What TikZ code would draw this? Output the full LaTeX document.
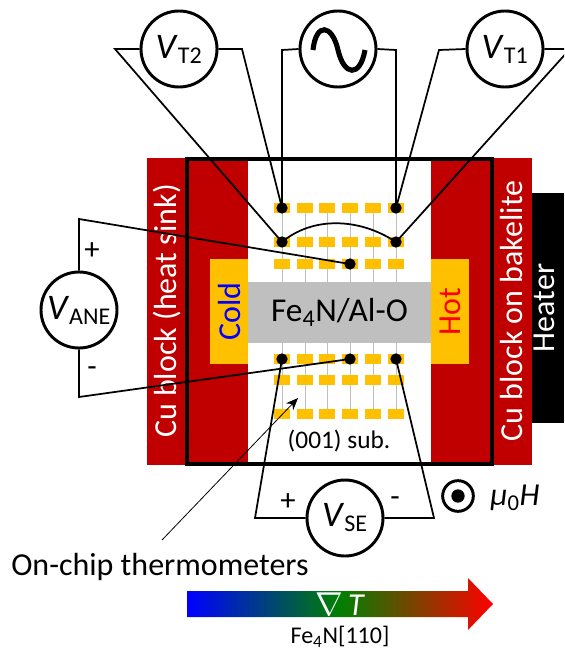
\documentclass[tikz,border=0pt]{standalone}
\usepackage{fontspec}
\setmainfont{Carlito}
\usepackage{xcolor}
\usetikzlibrary{arrows.meta, positioning, calc}
\definecolor{cublock}{RGB}{192,0,0}
\definecolor{padgold}{RGB}{255,192,0}
\definecolor{filmgray}{RGB}{191,191,191}
\definecolor{midgreen}{RGB}{0,128,0}
\newcommand{\fsize}[1]{\fontsize{#1}{#1}\selectfont}
\newcommand{\volt}[1]{\textit{V}\textsubscript{\fsize{18}#1}}

\begin{document}
\begin{tikzpicture}[
    x=0.75pt, y=-0.75pt,
    >={Stealth[length=3.2mm,width=2.6mm]},
    every node/.style={inner sep=0pt},
    cublk/.style={fill=cublock, draw=none},
    sidepad/.style={fill=padgold, draw=none, minimum width=28.5pt, minimum height=79pt},
    pad/.style={fill=padgold, draw=none, minimum width=11.5pt, minimum height=7.5pt},
    strip/.style={draw=filmgray, line width=0.6pt},
    wire/.style={draw=black, line width=1.3pt, line join=miter},
    contact/.style={circle, fill=black, minimum size=8.5pt},
    meter/.style={circle, draw=black, line width=2.2pt, fill=white,
                  minimum size=57pt, font=\fsize{27}, align=center},
    bigtext/.style={font=\fsize{24}, text=black},
    sidetext/.style={font=\fsize{24}, text=white, rotate=90},
    signtext/.style={font=\fsize{23}}
  ]
  \clip (0,0) rectangle (564,653);
  \useasboundingbox (0,0) rectangle (564,653);

  % ===== CU BLOCKS =====
  \fill[cublk] (147,158) rectangle (248,465);
  \fill[cublk] (431,158) rectangle (532,465);
  \node[fill=black, minimum width=24pt, minimum height=172pt] (heater) at (548,308) {};
  \node[sidetext] at (544,308) {Heater};
  \node[sidetext] (sink) at (167,311) {Cu block (heat sink)};
  \node[sidetext] (bakelite) at (512,311) {Cu block on bakelite};

  % ===== SAMPLE =====
  \node[sidepad] (cold) at (229,311.5) {};
  \node[sidepad] (hot) at (450,311.5) {};
  \node[font=\fsize{24}, text=blue, rotate=90] at (cold.center) {Cold};
  \node[font=\fsize{24}, text=red, rotate=90] at (hot.center) {Hot};

  % grey strips behind the pads
  \foreach \px in {282,305,327,350,373,396} {
    \draw[strip] (\px,208) -- (\px,285);
    \draw[strip] (\px,340) -- (\px,414);
  }
  \node[fill=filmgray, minimum width=137pt, minimum height=46pt] (film) at (339.5,312.5)
    {\fsize{25}Fe\textsubscript{\fsize{18}4}N/Al-O};

  % thermometer pads, upper and lower rows
  \foreach \px in {282,305,327,350,373,396}
    \foreach \py in {208,242,264,359,380,414}
      \node[pad] at (\px,\py) {};

  \node[font=\fsize{19}] (sub) at (339,441) {(001) sub.};

  \draw[draw=black, line width=2.4pt] (187,159) rectangle (492,464);

  % ===== CONTACTS =====
  \node[contact] (tl) at (282,208) {};
  \node[contact] (tr) at (396,208) {};
  \node[contact] (ml) at (282,242) {};
  \node[contact] (mr) at (396,242) {};
  \node[contact] (up) at (350,264) {};
  \node[contact] (bl) at (282,359) {};
  \node[contact] (bm) at (350,359) {};
  \node[contact] (br) at (396,359) {};

  % ===== WIRES =====
  \coordinate (vt2a) at (115,49);
  \coordinate (vt2b) at (242,49);
  \coordinate (aca) at (282,50);
  \coordinate (acb) at (396,50);
  \coordinate (vt1a) at (439,50);
  \coordinate (vt1b) at (570,49);
  \coordinate (vanea) at (79,219);
  \coordinate (vaneb) at (79,397);
  \coordinate (vsea) at (255,518);
  \coordinate (vseb) at (434,518);

  % ===== METERS =====
  \node[meter] (vt2) at (179,49) {\volt{T2}};
  \node[meter] (ac) at (338,49) {};
  \node[meter] (vt1) at (505,49) {\volt{T1}};
  \node[meter] (vane) at (79,310) {\volt{ANE}};
  \node[meter] (vse) at (345,518) {\volt{SE}};

  \draw[line width=3.8pt] (313,50) .. controls (316,22) and (332,24) .. (338,50)
    .. controls (344,76) and (360,78) .. (365,50);

  \draw[wire] (vt2.west) -- (vt2a) -- (ml.center);
  \draw[wire] (vt2.east) -- (vt2b) -- (tl.center);
  \draw[wire] (ac.west) -- (aca) -- (tl.center);
  \draw[wire] (ac.east) -- (acb) -- (tr.center);
  \draw[wire] (vt1.west) -- (vt1a) -- (tr.center);
  \draw[wire] (vt1.east) -- (vt1b) -- (mr.center);
  \draw[wire] (vane.north) -- (vanea) -- (up.center);
  \draw[wire] (vane.south) -- (vaneb) -- (bm.center);
  \draw[wire] (vse.west) -- (vsea) -- (bl.center);
  \draw[wire] (vse.east) -- (vseb) -- (br.center);
  % link between the middle contacts
  \draw[wire] (ml.center) .. controls (312,217) and (358,217) .. (mr.center);

  \node[signtext] at (92,251) {+};
  \node[signtext] at (92,372) {-};
  \node[signtext] at (288,502) {+};
  \node[signtext] at (395,502) {-};

  % ===== FIELD =====
  \node[circle, draw=black, line width=2.2pt, minimum size=23pt] (field) at (458,496) {};
  \node[circle, fill=black, minimum size=10pt] at (field.center) {};
  \node[font=\fsize{24}] (fieldlabel) at (515,498) {\textit{μ}\textsubscript{\fsize{17}0}\textit{H}};

  % ===== THERMOMETER NOTE =====
  \node[bigtext, anchor=west] (note) at (11,567) {On-chip thermometers};
  \coordinate (notestart) at (162,540);
  \coordinate (notetip) at (298,398);
  \draw[->, line width=0.6pt] (notestart) -- (notetip);

  % ===== GRADIENT =====
  \shade[left color=blue, right color=red, middle color=midgreen]
    (187,591) -- (468,591) -- (468,578) -- (493,604) -- (468,630) -- (468,617)
    -- (187,617) -- cycle;
  \node[font=\fsize{24}, text=white] (grad) at (340,604) {$\nabla$\,\textit{T}};
  \node[font=\fsize{18}] (axis) at (340,637) {Fe\textsubscript{\fsize{13}4}N[110]};

\end{tikzpicture}
\end{document}
